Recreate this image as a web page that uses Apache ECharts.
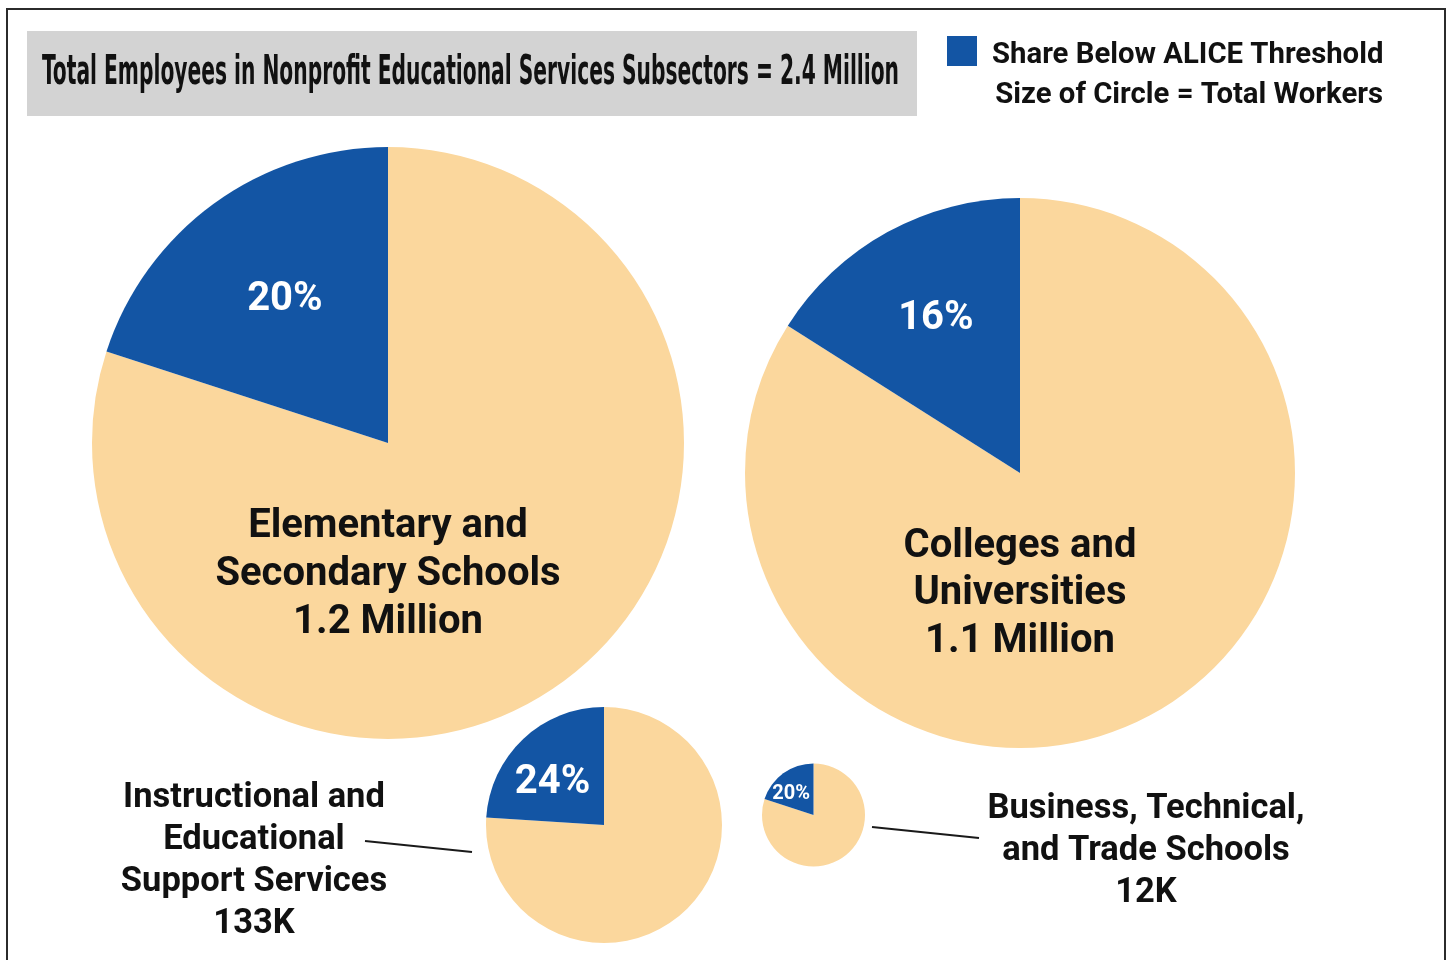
<!DOCTYPE html>
<html>
<head>
<meta charset="utf-8">
<script src="https://cdn.jsdelivr.net/npm/echarts@6/dist/echarts.min.js"></script>
<style>
html,body{margin:0;padding:0;background:#fff;}
#chart{width:1449px;height:960px;}
</style>
</head>
<body>
<div id="chart"></div>
<script>
// ---- data ----
const titleText = 'Total Employees in Nonprofit Educational Services Subsectors = 2.4 Million';
const legendBelow = 'Share Below ALICE Threshold';
const legendAbove = 'Share Above ALICE Threshold';
const sizeNote = 'Size of Circle = Total Workers';
const categories = ['Elementary and\nSecondary Schools', 'Colleges and\nUniversities', 'Instructional and\nEducational\nSupport Services', 'Business, Technical,\nand Trade Schools'];
const totals = ['1.2 Million', '1.1 Million', '133K', '12K'];
const shareBelow = [20, 16, 24, 20];

// ---- layout / style ----
const BLUE = '#1355A4';
const BEIGE = '#FBD79D';
const layout = [
  {c: [388, 443], r: 296, lf: 0.61, adj: [3, 3], fs: 40, lab: {x: 388, y: 575, fs: 40, lh: 48}},
  {c: [1020, 473], r: 275, lf: 0.65, adj: [2, 3], fs: 40, lab: {x: 1020, y: 594, fs: 40, lh: 47.5}},
  {c: [604, 825], r: 118, lf: 0.60, adj: [-3, 10], fs: 40, lab: {x: 254, y: 861, fs: 34.5, lh: 42}},
  {c: [813.5, 815], r: 51.5, lf: 0.64, adj: [-3, 6], fs: 20, lab: {x: 1146, y: 851, fs: 34.5, lh: 42}}
];
const connectors = [
  [[365, 841], [472, 852]],
  [[872, 827], [979, 838]]
];

const chart = echarts.init(document.getElementById('chart'), null, {renderer: 'canvas'});

// title scale to fit the condensed look
const titleFont = 'bold 41px "Liberation Sans Narrow", "DejaVu Sans Condensed", sans-serif';
const cv = document.createElement('canvas').getContext('2d');
cv.font = titleFont;
const tw = cv.measureText(titleText).width;
const titleScale = 857 / tw;

const series = shareBelow.map((p, i) => {
  const L = layout[i];
  return {
    type: 'pie',
    z: 2,
    center: L.c,
    radius: [0, L.r],
    startAngle: 90,
    clockwise: true,
    silent: true,
    animation: false,
    avoidLabelOverlap: false,
    labelLine: {show: false},
    emphasis: {disabled: true},
    itemStyle: {borderWidth: 0},
    label: {show: false},
    labelLayout: function (params) {
      if (params.dataIndex !== 1) return {};
      const a = (p / 100) * Math.PI; // half of slice angle
      return {
        x: L.c[0] - Math.sin(a) * L.lf * L.r + L.adj[0],
        y: L.c[1] - Math.cos(a) * L.lf * L.r + L.adj[1],
        align: 'center',
        verticalAlign: 'middle'
      };
    },
    data: [
      {name: legendAbove, value: 100 - p, itemStyle: {color: BEIGE}},
      {name: legendBelow, value: p, itemStyle: {color: BLUE},
        label: {show: true, position: 'inside', formatter: p + '%', color: '#fff',
          fontFamily: 'Roboto', fontWeight: 'bold', fontSize: L.fs}}
    ]
  };
});

const graphics = [
  {type: 'polyline', silent: true, z: 0, shape: {points: [[7, 960], [7, 9], [1445, 9], [1445, 960]]},
    style: {stroke: '#2b2b2b', lineWidth: 2, fill: null}},
  {type: 'rect', silent: true, z: 0, shape: {x: 27, y: 31, width: 890, height: 85}, style: {fill: '#D3D3D3'}},
  {type: 'text', silent: true, z: 10, x: 42, y: 73, scaleX: titleScale, scaleY: 1,
    style: {text: titleText, font: titleFont, fill: '#111', textAlign: 'left', textVerticalAlign: 'middle'}},
  {type: 'text', silent: true, z: 10, x: 992, y: 56,
    style: {text: legendBelow, font: 'bold 29.3px Roboto', fill: '#111', textAlign: 'left', textVerticalAlign: 'middle'}},
  {type: 'text', silent: true, z: 10, x: 1383, y: 96,
    style: {text: sizeNote, font: 'bold 29.3px Roboto', fill: '#111', textAlign: 'right', textVerticalAlign: 'middle'}}
];
categories.forEach((c, i) => {
  const L = layout[i].lab;
  graphics.push({type: 'text', silent: true, z: 10, x: L.x, y: L.y,
    style: {text: c + '\n' + totals[i], font: 'bold ' + L.fs + 'px Roboto', lineHeight: L.lh,
      fill: '#111', textAlign: 'center', textVerticalAlign: 'middle'}});
});
connectors.forEach(pts => {
  graphics.push({type: 'line', silent: true, z: 10,
    shape: {x1: pts[0][0], y1: pts[0][1], x2: pts[1][0], y2: pts[1][1]},
    style: {stroke: '#1a1a1a', lineWidth: 2}});
});

chart.setOption({
  backgroundColor: '#fff',
  animation: false,
  legend: {
    data: [legendBelow],
    left: 947, top: 36, padding: 0,
    itemWidth: 30, itemHeight: 30, icon: 'rect',
    selectedMode: false,
    formatter: function () { return ''; },
    textStyle: {fontSize: 1}
  },
  graphic: {elements: graphics},
  series: series
});
</script>
</body>
</html>
